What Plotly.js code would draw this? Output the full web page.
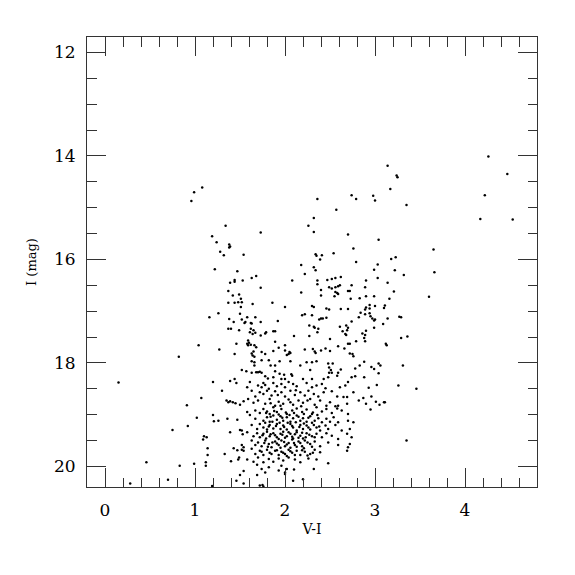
<!DOCTYPE html>
<html>
<head>
<meta charset="utf-8">
<script src="https://cdn.plot.ly/plotly-3.0.1.min.js"></script>
<style>html,body{margin:0;padding:0;background:#fff;}#chart{width:575px;height:575px;}</style>
</head>
<body>
<div id="chart"></div>
<script>
// Bright / sparse stars (V-I, I)
const brightVI = [1.08,0.99,0.96,1.34,1.19,1.24,1.38,1.38,1.39,1.28,1.32,1.54,
  3.14,2.74,2.79,2.98,3.00,2.36,2.57,2.32,2.26,2.32,1.73,2.70,3.04,2.76,2.54,2.34,2.35,2.41,2.39,
  4.26,3.24,3.25,4.47,3.17,4.22,3.35,4.17,4.53,3.65,3.23,3.18];
const brightI = [14.61,14.70,14.87,15.35,15.55,15.67,15.71,15.77,15.75,15.85,15.92,15.91,
  14.19,14.76,14.83,14.77,14.86,14.83,15.04,15.20,15.35,15.47,15.48,15.52,15.62,15.79,15.88,15.90,15.93,15.92,16.00,
  14.01,14.38,14.41,14.35,14.64,14.76,14.95,15.22,15.23,15.81,15.96,15.99];

// Blue edge and red edge of the upper part
const edgeVI = [1.22,1.47,1.39,1.44,1.44,1.53,1.37,1.42,1.49,1.51,1.37,1.44,1.48,1.52,1.51,1.50,1.26,1.16,1.38,1.43,1.52,1.55,1.37,1.40,1.49,1.46,1.04,1.27,1.44,0.82,1.52,
  3.22,3.32,3.66,3.14,3.21,3.16,3.60,3.11,3.14,3.27,3.29,3.29,3.36,3.12,3.13,3.31];
const edgeI = [16.19,16.23,16.45,16.40,16.43,16.41,16.61,16.70,16.68,16.76,16.84,16.84,16.83,16.83,16.92,17.05,17.04,17.12,17.15,17.21,17.16,17.23,17.34,17.34,17.37,17.63,17.66,17.74,17.83,17.88,18.14,
  16.21,16.30,16.25,16.45,16.62,16.76,16.72,16.89,17.14,17.11,17.12,17.52,17.49,17.63,17.66,18.05];

// Middle part (I 16 - 18.2)
const midVI = [2.79,2.18,2.32,2.34,3.03,2.99,2.22,1.63,1.68,2.08,2.36,2.36,2.47,2.52,2.56,2.62,3.03,2.90,2.74,2.49,2.52,2.56,2.59,2.61,1.73,2.40,2.18,2.56,2.58,2.59,2.70,2.72,2.89,2.40,2.55,2.83,2.90,2.99,2.73,1.86,1.64,2.00,2.30,2.32,2.46,2.49,2.62,2.70,2.90,2.89,2.94,3.00,2.94,3.10,2.84,2.89,2.94,2.82,2.95,2.97,2.99,3.00,2.19,2.22,2.30,2.38,2.40,2.42,2.46,1.58,1.67,1.62,1.63,1.56,1.73,1.92,2.74,3.09,2.27,2.32,2.33,2.37,2.61,2.68,2.70,2.69,2.99,1.62,1.65,1.61,1.64,1.67,1.73,1.78,1.79,1.87,1.89,2.27,2.36,2.64,2.67,2.68,2.86,2.89,2.88,2.90,2.10,1.59,1.60,1.58,1.59,1.62,1.66,1.68,1.89,2.50,2.70,2.72,2.79,2.89,1.93,2.00,2.00,2.22,2.31,2.33,2.34,2.40,2.45,2.50,2.59,2.66,2.72,2.75,2.76,1.63,1.65,1.64,1.66,1.63,1.66,1.66,1.74,1.78,1.74,1.87,1.82,1.84,1.89,2.02,2.04,2.05,2.06,1.94,2.06,2.17,2.24,2.30,2.35,2.28,2.48,2.53,2.49,2.51,2.49,2.52,2.59,2.62,2.78,2.83,2.88,2.96,2.99,3.04,3.06,3.04,1.63,1.68,1.70,1.72,1.74,1.89,1.94,1.99,2.07,1.57];
const midI = [16.05,16.11,16.15,16.21,16.10,16.20,16.28,16.36,16.32,16.41,16.41,16.48,16.40,16.38,16.36,16.34,16.36,16.41,16.50,16.54,16.56,16.54,16.52,16.50,16.55,16.59,16.64,16.63,16.65,16.67,16.61,16.61,16.54,16.70,16.71,16.75,16.71,16.71,16.76,16.84,16.86,16.92,16.90,16.92,16.95,16.97,16.96,16.96,16.93,16.97,16.88,16.90,16.95,16.94,17.03,17.06,17.04,17.12,17.10,17.14,17.18,17.16,17.08,17.06,17.08,17.16,17.14,17.14,17.13,17.12,17.12,17.23,17.24,17.21,17.21,17.19,17.20,17.25,17.28,17.30,17.32,17.34,17.30,17.28,17.32,17.37,17.32,17.34,17.37,17.41,17.44,17.42,17.47,17.43,17.41,17.39,17.39,17.48,17.41,17.39,17.44,17.46,17.43,17.46,17.52,17.38,17.48,17.57,17.61,17.63,17.66,17.65,17.66,17.70,17.59,17.54,17.63,17.63,17.58,17.58,17.71,17.66,17.76,17.74,17.73,17.78,17.81,17.76,17.72,17.77,17.68,17.72,17.82,17.83,17.87,17.82,17.78,17.86,17.88,17.97,17.99,18.05,17.79,17.83,17.95,17.77,17.95,18.05,18.05,17.85,17.83,17.79,17.81,17.97,17.97,18.05,17.99,17.99,17.97,18.14,18.01,18.01,18.09,18.14,18.19,18.19,18.19,18.13,18.11,18.05,17.98,18.08,18.12,18.01,18.05,18.20,18.19,18.18,18.18,18.17,18.19,18.16,18.21,18.23,18.22,18.16];

// Faint blue side and faint red outliers
const faintEdgeVI = [0.15,1.20,1.39,1.44,1.46,1.30,1.07,1.35,1.37,1.39,1.42,1.45,1.50,1.54,0.91,1.20,1.21,1.26,1.36,1.47,1.02,0.75,0.92,1.39,1.50,1.52,1.53,1.10,1.13,1.09,1.52,1.54,1.14,1.43,1.47,1.52,1.54,1.14,1.33,1.49,1.48,1.40,1.12,1.12,0.46,0.99,0.83,1.50,1.54,1.46,1.54,0.70,0.28,1.19,
  3.26,3.46,3.11,3.35,2.88,3.02,2.93,2.87,2.90,2.96,3.01,3.05,3.10,2.95];
const faintEdgeI = [18.38,18.37,18.35,18.31,18.39,18.54,18.68,18.73,18.76,18.74,18.76,18.78,18.81,18.74,18.82,19.01,19.13,19.12,19.08,19.10,19.06,19.30,19.22,19.34,19.30,19.31,19.38,19.42,19.44,19.48,19.59,19.63,19.65,19.65,19.69,19.68,19.70,19.78,19.76,19.83,19.87,19.90,19.92,19.99,19.92,19.95,19.99,20.17,20.09,20.28,20.33,20.26,20.33,20.38,
  18.44,18.50,18.76,19.50,18.28,18.43,18.48,18.68,18.79,18.65,18.75,18.81,18.76,18.90];

// Dense faint clump (I > 18.2, V-I 1.56 - 2.85)
const clumpVI = [1.78,1.81,1.87,1.96,2.00,2.08,2.20,2.30,2.43,2.48,2.58,2.74,2.78,
  1.58,1.61,1.70,1.74,1.78,1.82,1.87,1.91,1.96,2.00,2.04,2.09,2.13,2.24,2.30,2.35,2.41,2.45,2.61,2.67,2.70,
  1.63,1.67,1.72,1.76,1.80,1.85,1.89,1.96,2.00,2.06,2.11,2.17,2.22,2.26,2.32,2.37,2.43,2.52,2.58,2.65,2.69,2.76,
  1.59,1.65,1.70,1.78,1.83,1.89,1.93,1.98,2.04,2.09,2.15,2.20,2.28,2.33,2.39,2.46,2.50,2.56,2.59,2.69,2.82,
  1.58,1.61,1.67,1.72,1.76,1.80,1.83,1.87,1.91,1.96,2.02,2.08,2.13,2.19,2.24,2.30,2.35,2.41,2.46,2.52,2.58,2.63,2.70,
  1.67,1.76,1.80,1.83,1.87,1.91,1.95,1.98,2.02,2.06,2.09,2.13,2.17,2.20,2.24,2.28,2.33,2.37,2.41,2.46,2.50,2.54,2.59,2.70,2.76,
  1.63,1.69,1.72,1.76,1.80,1.83,1.87,1.91,1.95,1.98,2.02,2.06,2.09,2.13,2.17,2.20,2.24,2.28,2.32,2.35,2.39,2.45,2.48,2.56,2.63,2.72,
  1.58,1.65,1.69,1.72,1.76,1.80,1.83,1.87,1.91,1.95,1.98,2.02,2.06,2.09,2.13,2.17,2.20,2.24,2.30,2.35,2.41,2.46,2.52,2.59,2.69,2.74,
  1.63,1.67,1.70,1.74,1.78,1.82,1.85,1.89,1.93,1.96,2.00,2.04,2.08,2.11,2.15,2.19,2.22,2.28,2.33,2.39,2.48,2.59,2.72,2.70,
  1.63,1.67,1.72,1.76,1.80,1.83,1.89,1.93,1.96,2.00,2.04,2.08,2.13,2.17,2.22,2.28,2.33,2.39,2.69,
  1.58,1.65,1.70,1.76,1.82,1.87,1.93,1.98,2.04,2.11,2.17,2.26,2.35,2.48,
  1.69,1.74,1.78,1.82,1.93,1.96,2.00,2.02,2.10,2.20,2.32,1.69,1.72,1.75,1.76,2.00,2.09];
const clumpI = [18.26,18.30,18.28,18.31,18.31,18.25,18.31,18.31,18.31,18.28,18.25,18.28,18.26,
  18.47,18.37,18.44,18.47,18.43,18.50,18.39,18.45,18.41,18.47,18.37,18.41,18.45,18.39,18.47,18.44,18.41,18.49,18.47,18.44,18.37,
  18.54,18.65,18.57,18.60,18.54,18.63,18.55,18.57,18.65,18.54,18.62,18.57,18.63,18.54,18.60,18.65,18.57,18.55,18.65,18.66,18.66,18.57,
  18.70,18.77,18.73,18.79,18.70,18.83,18.75,18.79,18.71,18.81,18.73,18.77,18.70,18.81,18.73,18.83,18.76,18.84,18.83,18.79,18.73,
  18.95,19.01,18.92,18.97,18.89,18.94,18.99,18.86,18.95,18.89,18.99,18.92,18.88,18.95,18.90,18.99,18.86,18.94,18.89,18.97,18.88,18.92,18.99,
  19.08,19.12,19.05,19.14,19.02,19.10,19.03,19.12,19.05,19.14,19.07,19.02,19.12,19.07,19.14,19.03,19.12,19.07,19.15,19.08,19.14,19.05,19.15,19.12,19.15,
  19.20,19.28,19.18,19.25,19.29,19.20,19.27,19.18,19.28,19.21,19.29,19.18,19.25,19.31,19.20,19.28,19.21,19.29,19.20,19.25,19.31,19.21,19.28,19.20,19.31,19.28,
  19.34,19.42,19.36,19.44,19.37,19.33,19.42,19.36,19.44,19.37,19.33,19.42,19.37,19.46,19.34,19.41,19.46,19.36,19.42,19.37,19.44,19.36,19.41,19.47,19.37,19.44,
  19.50,19.59,19.54,19.61,19.50,19.57,19.63,19.52,19.59,19.50,19.61,19.55,19.48,19.59,19.52,19.61,19.50,19.57,19.52,19.61,19.54,19.59,19.57,19.63,
  19.66,19.76,19.70,19.78,19.68,19.74,19.70,19.78,19.72,19.76,19.68,19.74,19.70,19.78,19.72,19.76,19.68,19.73,19.70,
  19.87,19.91,19.83,19.92,19.86,19.91,19.85,19.89,19.83,19.87,19.92,19.85,19.87,19.94,
  19.97,20.05,20.12,20.02,20.08,19.99,20.12,20.05,20.06,20.25,20.05,20.17,20.37,20.36,20.39,20.15,20.28];

// Extra stars filling the densest core of the clump
const coreVI = [1.79,1.84,1.88,1.93,1.97,2.01,2.05,2.10,2.15,2.21,2.26,2.31,2.36,
  1.78,1.82,1.86,1.90,1.94,1.99,2.03,2.08,2.12,2.16,2.21,2.26,2.30,2.38,
  1.75,1.79,1.84,1.89,1.93,1.97,2.00,2.04,2.08,2.11,2.15,2.19,2.23,2.27,2.33,
  1.77,1.81,1.86,1.91,1.95,1.99,2.02,2.06,2.10,2.13,2.17,2.21,2.25,2.30,
  1.74,1.85,1.91,1.98,2.02,2.06,2.11,2.19,2.25,2.31,
  1.84,1.95,2.06,2.18,2.25,2.12,1.92,1.76];
const coreI = [18.97,19.04,18.93,19.00,19.06,18.96,19.01,18.97,19.04,18.99,19.06,18.96,19.01,
  19.16,19.23,19.14,19.22,19.16,19.24,19.16,19.22,19.15,19.24,19.17,19.25,19.16,19.23,
  19.40,19.46,19.38,19.40,19.47,19.39,19.45,19.34,19.43,19.38,19.45,19.35,19.44,19.39,19.44,
  19.55,19.62,19.54,19.56,19.64,19.53,19.58,19.64,19.55,19.62,19.55,19.65,19.54,19.62,
  19.72,19.76,19.69,19.74,19.80,19.71,19.78,19.69,19.79,19.74,
  18.78,18.83,18.76,18.84,18.73,18.53,18.62,18.39];

const xTitle = "V-I";
const yTitle = "I (mag)";
const yTicks = [12, 14, 16, 18, 20];
const xTicks = [0, 1, 2, 3, 4];

const vi = [].concat(brightVI, edgeVI, midVI, faintEdgeVI, clumpVI, coreVI);
const mag = [].concat(brightI, edgeI, midI, faintEdgeI, clumpI, coreI);

const fontFam = "DejaVu Serif, serif";
const trace = {
  x: vi, y: mag, type: "scatter", mode: "markers",
  marker: {size: 2.5, color: "#000"},
  hoverinfo: "skip"
};
const axisCommon = {
  showgrid: false, zeroline: false, showline: true, linecolor: "#333", linewidth: 1,
  mirror: "allticks", ticks: "inside", ticklen: 19, tickwidth: 1, tickcolor: "#333",
  tickfont: {family: fontFam, size: 17, color: "#000"}
};
const layout = {
  width: 575, height: 575,
  margin: {l: 87, r: 38, t: 37, b: 88},
  paper_bgcolor: "#fff", plot_bgcolor: "#fff",
  showlegend: false,
  xaxis: Object.assign({}, axisCommon, {
    range: [-0.2, 4.8], tickmode: "array", tickvals: xTicks, ticktext: xTicks.map(String),
    ticklabelstandoff: 8,
    minor: {dtick: 0.2, tick0: 0, ticks: "inside", ticklen: 9.5, tickwidth: 1, tickcolor: "#333"},
    title: {text: xTitle, font: {family: fontFam, size: 14, color: "#000"}, standoff: 4}
  }),
  yaxis: Object.assign({}, axisCommon, {
    range: [20.4, 11.7], tickmode: "array", tickvals: yTicks, ticktext: yTicks.map(String),
    ticklabelstandoff: 7,
    minor: {dtick: 0.5, tick0: 0, ticks: "inside", ticklen: 9.5, tickwidth: 1, tickcolor: "#333"},
    title: {text: yTitle, font: {family: fontFam, size: 13, color: "#000"}, standoff: 14}
  })
};
Plotly.newPlot("chart", [trace], layout, {staticPlot: true, displayModeBar: false});
</script>
</body>
</html>
